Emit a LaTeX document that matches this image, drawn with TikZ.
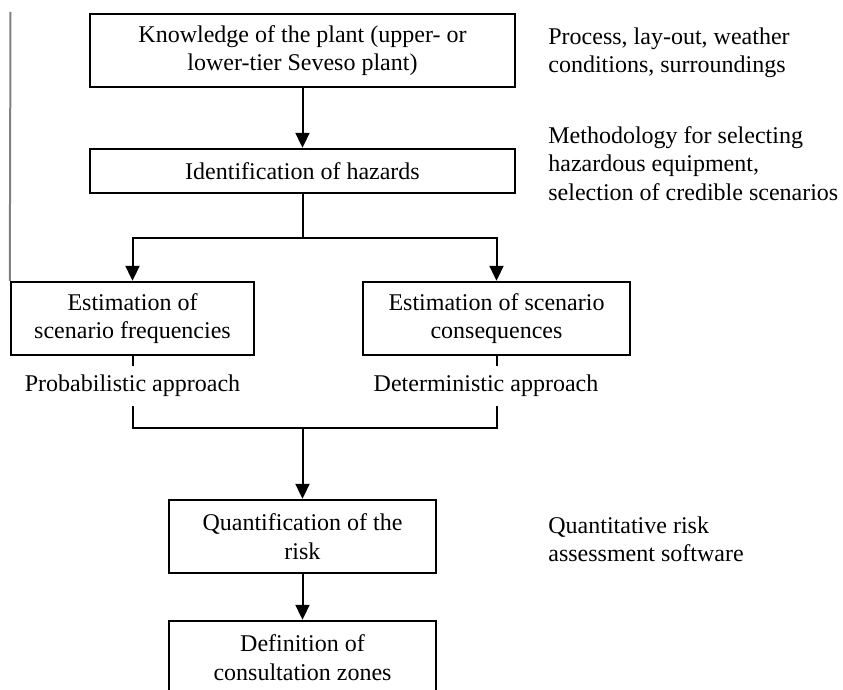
\documentclass[tikz,border=0pt]{standalone}
\usepackage{fontspec}
\setmainfont{Liberation Serif}
\usetikzlibrary{arrows.meta}

\tikzset{
  box/.style={draw, line width=1.2pt, align=center, inner sep=0pt,
    minimum height=36.5pt},
  note/.style={align=left, anchor=west, inner sep=0pt},
  arr/.style={-{Triangle[width=7pt,length=7.5pt]}, line width=1pt},
  link/.style={line width=1pt}
}

\begin{document}
\begin{tikzpicture}[x=0.5pt, y=-0.5pt,
    every node/.append style={font=\fontsize{12}{14.2}\selectfont}]
    \clip (0,0) rectangle (843,690);

    % Boxes
    \node[box, minimum width=212.5pt] (know) at (302.5,50.5)
    {Knowledge of the plant (upper- or\\lower-tier Seveso plant)};
    \node[box, minimum width=212.5pt, minimum height=22pt] (ident) at (302.5,171)
    {Identification of hazards};
    \node[box, minimum width=121.5pt] (freq) at (132.5,318.5)
    {Estimation of\\scenario frequencies};
    \node[box, minimum width=133.5pt] (cons) at (496.5,318.5)
    {Estimation of scenario\\consequences};
    \node[box, minimum width=133.5pt] (quant) at (302.5,536.5)
    {Quantification of the\\risk};
    \node[box, minimum width=133.5pt] (zones) at (302.5,657.5)
    {Definition of\\consultation zones};

    % Approaches
    \node[inner sep=0pt, minimum height=20pt] (prob) at (132.5,386) {Probabilistic approach};
    \node[inner sep=0pt, minimum height=20pt] (det) at (486,386) {Deterministic approach};

    % Notes on the right
    \node[note] (plantnote) at (548,52.5) {Process, lay-out, weather\\conditions, surroundings};
    \node[note] (hazardnote) at (548,163.5) {Methodology for selecting\\hazardous equipment,\\selection of credible scenarios};
    \node[note] (risknote) at (548,539) {Quantitative risk\\assessment software};

    % Junctions
    \coordinate (split) at (302.5,238);
    \coordinate (join) at (302.5,428);
    \coordinate (edge) at (10.5,12);

    % Connectors
    \draw[arr] (know) -- (ident);
    \draw[link] (ident) -- (split);
    \draw[arr] (split) -| (freq);
    \draw[arr] (split) -| (cons);
    \draw[link] (freq) -- (prob);
    \draw[link] (cons) -- (cons |- det.north);
    \draw[link] (prob) |- (join) -| (cons |- det.south);
    \draw[arr] (join) -- (quant);
    \draw[arr] (quant) -- (zones);

    % Margin line
    \draw[gray, line width=1pt] (edge) -- (freq.north west);
\end{tikzpicture}
\end{document}
